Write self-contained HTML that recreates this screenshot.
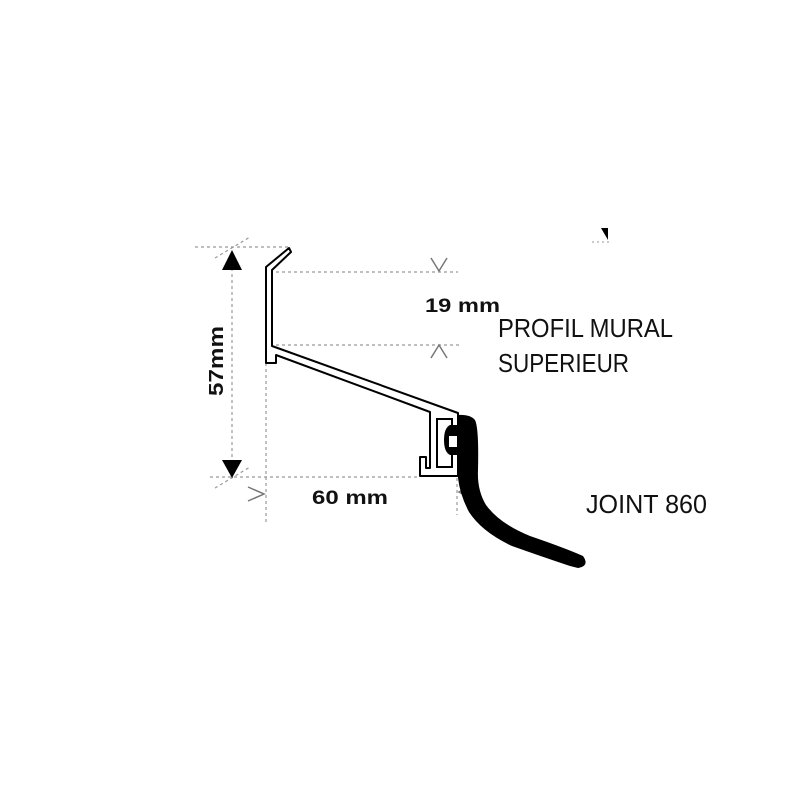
<!DOCTYPE html>
<html><head><meta charset="utf-8"><style>
html,body{margin:0;padding:0;background:#fff}
svg{display:block}
</style></head><body>
<svg width="800" height="800" viewBox="0 0 800 800" xmlns="http://www.w3.org/2000/svg">
<rect width="800" height="800" fill="#fff"/>
<g stroke="#999" stroke-width="1.2" stroke-dasharray="3,3" fill="none">
<line x1="195" y1="247" x2="290" y2="247"/>
<line x1="210" y1="477" x2="420" y2="477"/>
<line x1="232" y1="268" x2="232" y2="462"/>
<line x1="266" y1="363" x2="266" y2="522"/>
<line x1="457" y1="478" x2="457" y2="515"/>
<line x1="276" y1="272" x2="458" y2="272"/>
<line x1="276" y1="345" x2="462" y2="345"/>
<line x1="215" y1="258" x2="250" y2="237"/>
<line x1="215" y1="488" x2="250" y2="467"/>
</g>
<polygon points="232,250 222,270 242,270" fill="#000"/>
<polygon points="232,478 222,460 242,460" fill="#000"/>
<g stroke="#777" stroke-width="1.5" fill="none">
<polyline points="431,258 439,271 447,258"/>
<polyline points="431,358 439,345 447,358"/>
<polyline points="248,487 264,494 248,501"/>
<polyline points="475,483 459,492 475,501"/>
</g>
<path d="M289,248 L266,267 L266,363 L276,363 L276,355 L430,412 L430,468 L426,468 L426,457 L420,457 L420,476 L458,476 L458,413 L272,346 L272,270 L291,252 Z" fill="#fff" stroke="#000" stroke-width="2" stroke-linejoin="round"/>
<rect x="437" y="419" width="15" height="48" fill="#fff" stroke="#000" stroke-width="2"/>
<path d="M458,415 Q470,414 475,420 Q479,428 478,470 Q477,490 486,505 Q500,524 530,536 Q565,548 583,556 Q590,566 578,568 L570,566 Q540,556 512,546 Q482,532 469,512 Q460,495 458,478 Z" fill="#000"/>
<path d="M458,425 L450,425 Q444,428 444,440 Q444,452 450,455 L458,455 Z" fill="#000"/>
<rect x="449" y="436" width="8" height="11" fill="#fff"/>
<polygon points="601,228 608,228 608,240" fill="#000"/>
<line x1="592" y1="242" x2="610" y2="242" stroke="#999" stroke-width="1" stroke-dasharray="2,3"/>
<g font-family="Liberation Sans, sans-serif" fill="#111">
<text x="0" y="0" font-size="20" font-weight="bold" transform="translate(223,396) rotate(-90)" textLength="70" lengthAdjust="spacingAndGlyphs">57mm</text>
<text x="425" y="312" font-size="19" font-weight="bold" textLength="75" lengthAdjust="spacingAndGlyphs">19 mm</text>
<text x="312" y="504" font-size="19" font-weight="bold" textLength="76" lengthAdjust="spacingAndGlyphs">60 mm</text>
<text x="498" y="337" font-size="26" textLength="175" lengthAdjust="spacingAndGlyphs">PROFIL MURAL</text>
<text x="498" y="372" font-size="26" textLength="131" lengthAdjust="spacingAndGlyphs">SUPERIEUR</text>
<text x="586" y="513" font-size="26" textLength="121" lengthAdjust="spacingAndGlyphs">JOINT 860</text>
</g>
</svg>
</body></html>
